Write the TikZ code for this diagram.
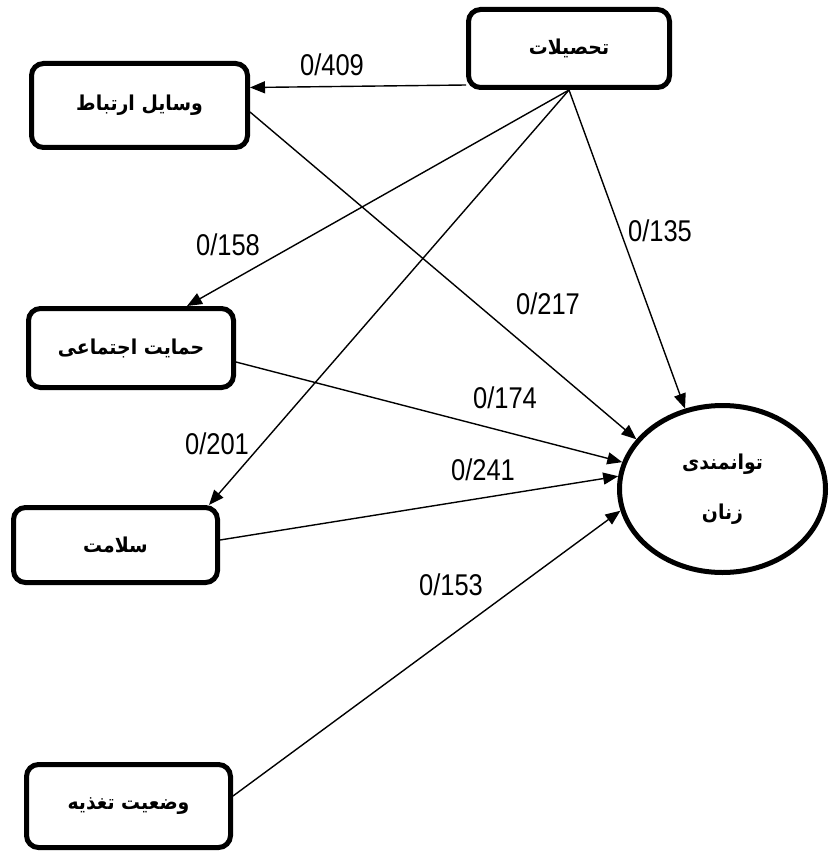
\documentclass[tikz,border=0pt]{standalone}
\usepackage{fontspec}
\usetikzlibrary{arrows.meta,shapes.geometric,calc}
\newfontfamily\arabicfont[Script=Arabic,FakeStretch=0.92]{DejaVu Sans}
\newfontfamily\numfont[FakeStretch=0.85]{Liberation Sans}
\TeXXeTstate=1
\begin{document}
\begin{tikzpicture}[x=1pt,y=-1pt,
  box/.style={draw, line width=5pt, rounded corners=12pt, inner sep=0pt,
    font=\arabicfont\bfseries\fontsize{20.5}{24}\selectfont},
  oval/.style={draw, ellipse, line width=5pt, inner sep=0pt, align=center,
    font=\arabicfont\bfseries\fontsize{20.5}{50}\selectfont},
  wt/.style={font=\numfont\fontsize{30}{32}\selectfont, inner sep=0pt},
  arr/.style={-{Triangle[length=15pt,width=12pt]}, line width=1.4pt}]
\useasboundingbox (0,0) rectangle (830,853);

\node[box, minimum width=201pt, minimum height=78pt] (t) at (569,48.5) {\beginR تحصیلات\endR};
\node[box, minimum width=216pt, minimum height=84pt] (v) at (139.5,105.5) {\beginR وسایل ارتباط\endR};
\node[box, minimum width=205pt, minimum height=79pt] (h) at (131,348) {\beginR حمایت اجتماعی\endR};
\node[box, minimum width=204pt, minimum height=75pt] (s) at (115.5,545) {\beginR سلامت\endR};
\node[box, minimum width=204pt, minimum height=83pt] (f) at (128.5,806) {\beginR وضعیت تغذیه\endR};
\node[oval, minimum width=206pt, minimum height=167pt] (e) at (722.5,489) {\beginR توانمندی\endR\\\beginR زنان\endR};

\draw[arr] ($(t.south west)+(0,-5)$) -- ($(v.east)+(0,-18)$);
\draw[arr] (t.south) -- ($(h.north)+(56,0)$);
\draw[arr] (t.south) -- ($(s.north east)+(-11,0)$);
\draw[arr] (t.south) -- (e.115);
\draw[arr] ($(v.east)+(0,6.5)$) -- (e.150);
\draw[arr] ($(h.east)+(0,14)$) -- (e.165);
\draw[arr] ($(s.east)+(0,-5)$) -- (e.173);
\draw[arr] ($(f.east)+(0,-10)$) -- (e.192);

\node[wt] (l1) at (332,65) {0/409};
\node[wt] (l2) at (228,245) {0/158};
\node[wt] (l3) at (217,444) {0/201};
\node[wt] (l4) at (660,231) {0/135};
\node[wt] (l5) at (548,304) {0/217};
\node[wt] (l6) at (505,398) {0/174};
\node[wt] (l7) at (483,470) {0/241};
\node[wt] (l8) at (451,585) {0/153};
\end{tikzpicture}
\end{document}
